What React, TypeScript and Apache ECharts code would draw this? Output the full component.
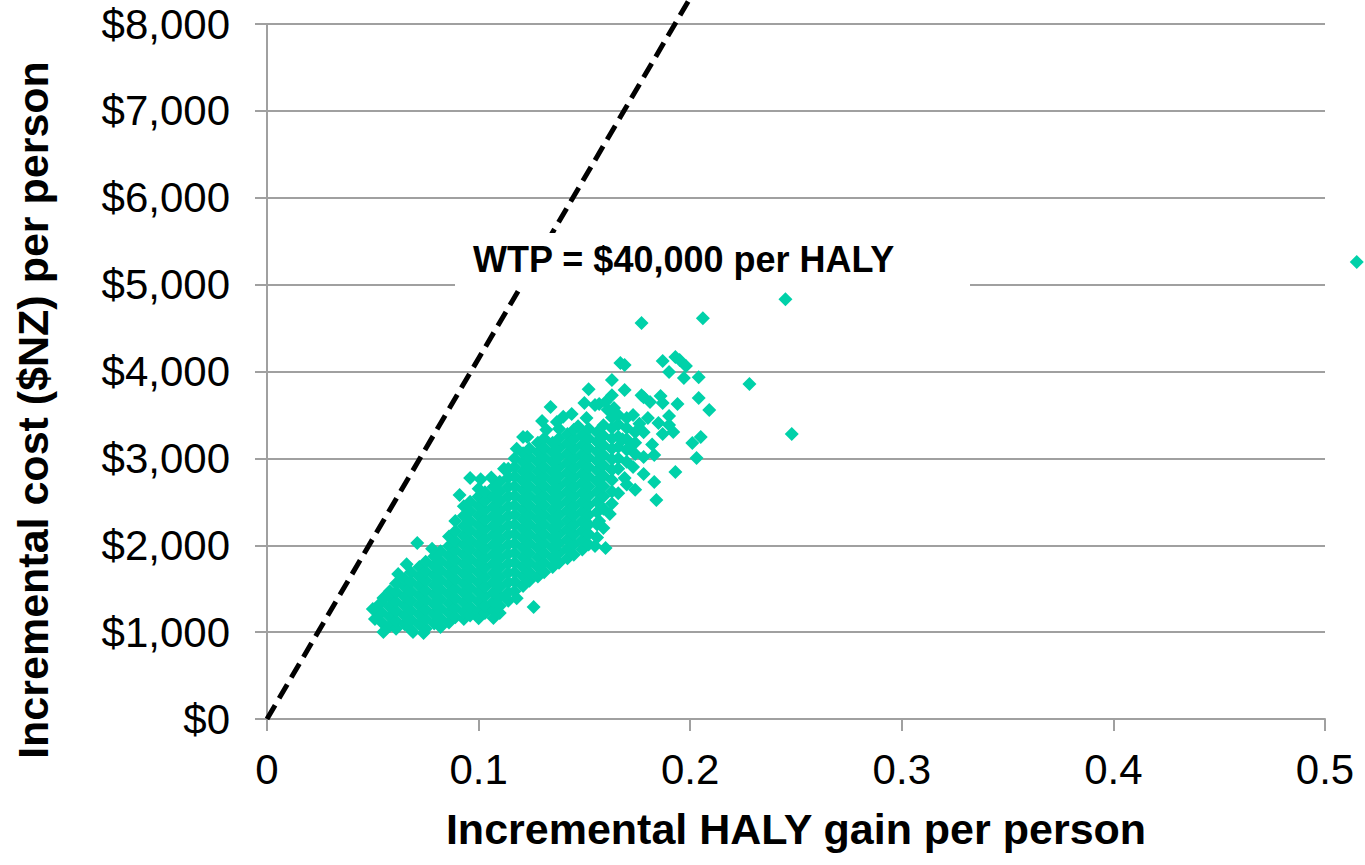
import React, { useEffect, useRef } from "react";
import * as echarts from "echarts";

const xTickLabels = ["0", "0.1", "0.2", "0.3", "0.4", "0.5"];
const yTickLabels = ["$0", "$1,000", "$2,000", "$3,000", "$4,000", "$5,000", "$6,000", "$7,000", "$8,000"];
const xAxisTitle = "Incremental HALY gain per person";
const yAxisTitle = "Incremental cost ($NZ) per person";
const wtpLabel = "WTP = $40,000 per HALY";
const wtpLineX = [0, 0.2];
const wtpLineY = [0, 8300];

// dense core of the simulation cloud: [HALY gain, list of costs]
const coreColumns: [number, number[]][] = [
  [0.051, [1150, 1265]],
  [0.054, [1120, 1230, 1340]],
  [0.058, [1070, 1180, 1290, 1400, 1470]],
  [0.061, [1040, 1130, 1240, 1350, 1460, 1560]],
  [0.065, [1090, 1190, 1300, 1410, 1520, 1610]],
  [0.068, [1030, 1140, 1250, 1360, 1470, 1580, 1690]],
  [0.072, [1090, 1200, 1310, 1420, 1530, 1640, 1750]],
  [0.075, [1040, 1150, 1260, 1370, 1480, 1590, 1700, 1810]],
  [0.079, [1100, 1210, 1320, 1430, 1540, 1650, 1760, 1870]],
  [0.082, [1060, 1160, 1270, 1380, 1490, 1600, 1710, 1820, 1930]],
  [0.086, [1110, 1220, 1330, 1440, 1550, 1660, 1770, 1880, 1990, 2100]],
  [0.089, [1170, 1280, 1390, 1500, 1610, 1720, 1830, 1940, 2050, 2160, 2280]],
  [0.093, [1150, 1230, 1340, 1450, 1560, 1670, 1780, 1890, 2000, 2110, 2220, 2340, 2450]],
  [0.096, [1190, 1290, 1400, 1510, 1620, 1730, 1840, 1950, 2060, 2170, 2280, 2390, 2500]],
  [0.100, [1160, 1240, 1350, 1460, 1570, 1680, 1790, 1900, 2010, 2120, 2230, 2340, 2450, 2560, 2650]],
  [0.103, [1220, 1300, 1410, 1520, 1630, 1740, 1850, 1960, 2070, 2180, 2290, 2400, 2510, 2610]],
  [0.107, [1250, 1350, 1460, 1570, 1680, 1790, 1900, 2010, 2120, 2230, 2340, 2450, 2560, 2670]],
  [0.110, [1220, 1300, 1410, 1520, 1630, 1740, 1850, 1960, 2070, 2180, 2290, 2400, 2510, 2620, 2730]],
  [0.114, [1360, 1460, 1570, 1680, 1790, 1900, 2010, 2120, 2230, 2340, 2450, 2560, 2670, 2780, 2880]],
  [0.117, [1470, 1580, 1690, 1800, 1910, 2020, 2130, 2240, 2350, 2460, 2570, 2680, 2790, 2900, 3000]],
  [0.121, [1530, 1640, 1750, 1860, 1970, 2080, 2190, 2300, 2410, 2520, 2630, 2740, 2850, 2960, 3060]],
  [0.124, [1590, 1690, 1800, 1910, 2020, 2130, 2240, 2350, 2460, 2570, 2680, 2790, 2900, 3010, 3110]],
  [0.128, [1640, 1750, 1860, 1970, 2080, 2190, 2300, 2410, 2520, 2630, 2740, 2850, 2960, 3070, 3180]],
  [0.131, [1690, 1800, 1910, 2020, 2130, 2240, 2350, 2460, 2570, 2680, 2790, 2900, 3010, 3120, 3230]],
  [0.135, [1750, 1860, 1970, 2080, 2190, 2300, 2410, 2520, 2630, 2740, 2850, 2960, 3070, 3180]],
  [0.138, [1800, 1910, 2020, 2130, 2240, 2350, 2460, 2570, 2680, 2790, 2900, 3010, 3120, 3230, 3340]],
  [0.142, [1850, 1960, 2070, 2180, 2290, 2400, 2510, 2620, 2730, 2840, 2950, 3060, 3170, 3280]],
  [0.145, [1890, 2010, 2120, 2230, 2340, 2450, 2560, 2670, 2780, 2890, 3000, 3110, 3220, 3330]],
  [0.149, [1950, 2060, 2170, 2280, 2390, 2500, 2610, 2720, 2830, 2940, 3050, 3160, 3270]],
  [0.152, [2010, 2130, 2240, 2350, 2460, 2570, 2680, 2790, 2900, 3010, 3120, 3230, 3340]],
  [0.156, [2090, 2240, 2380, 2500, 2620, 2740, 2860, 2970, 3080, 3190, 3300]],
  [0.159, [2200, 2420, 2560, 2680, 2800, 2920, 3040, 3150, 3260, 3380]],
  [0.163, [2480, 2620, 2750, 2870, 2990, 3110, 3230, 3350, 3470]],
  [0.166, [2600, 2880, 3000, 3130, 3250, 3390]],
  [0.170, [2700, 2960, 3100, 3220, 3350]],
  [0.174, [3050, 3180, 3300]],
];

// sparse points around the cloud and outliers: [HALY gain, cost]
const outerPoints: [number, number][] = [
  [0.050, 1266], [0.055, 1001], [0.055, 1392], [0.062, 1669], [0.069, 1001], [0.074, 990],
  [0.071, 2025], [0.066, 1780], [0.078, 1960], [0.091, 2578], [0.096, 2773], [0.107, 1162],
  [0.126, 1289], [0.118, 1390], [0.160, 1968], [0.155, 1990],
  [0.101, 2760], [0.106, 2780], [0.112, 2880], [0.118, 3110], [0.121, 3245], [0.123, 3245],
  [0.130, 3429], [0.134, 3590], [0.132, 3330], [0.137, 3420], [0.140, 3480], [0.144, 3510],
  [0.147, 3370], [0.150, 3636], [0.151, 3464], [0.152, 3797], [0.155, 3613], [0.157, 3625],
  [0.161, 3560], [0.163, 3728], [0.163, 3901], [0.164, 3579], [0.167, 4097], [0.169, 4074],
  [0.169, 3786], [0.170, 3464], [0.173, 3498], [0.177, 3728], [0.178, 3705], [0.180, 3464],
  [0.181, 3648], [0.186, 3717], [0.187, 3636], [0.187, 4120], [0.190, 3993], [0.190, 3487],
  [0.185, 3406], [0.190, 3383], [0.192, 3303], [0.187, 3280], [0.193, 4166], [0.195, 4131],
  [0.198, 4062], [0.197, 3924], [0.204, 3935], [0.194, 3625], [0.204, 3694], [0.209, 3556],
  [0.201, 3176], [0.205, 3245], [0.203, 3003], [0.178, 3015], [0.183, 3038], [0.182, 3160],
  [0.178, 3300], [0.176, 3400], [0.172, 3150], [0.168, 3220], [0.166, 3500], [0.160, 3650],
  [0.178, 2819], [0.183, 2727], [0.184, 2520], [0.193, 2842], [0.169, 2773], [0.173, 2900],
  [0.174, 2640], [0.157, 2280], [0.162, 2360],
  [0.177, 4557], [0.206, 4614], [0.245, 4833], [0.228, 3855], [0.248, 3280], [0.515, 5259],
];

export default function App() {
  const ref = useRef<HTMLDivElement>(null);
  useEffect(() => {
    document.body.style.margin = "0";
    const chart = echarts.init(ref.current!, null, { renderer: "svg" });
    const points: [number, number][] = [
      ...coreColumns.flatMap(([x, ys]) => ys.map((y) => [x, y] as [number, number])),
      ...outerPoints,
    ];
    const font = "'Liberation Sans', Arial, Helvetica, sans-serif";
    const gray = "#a0a0a0";
    chart.setOption({
      animation: false,
      backgroundColor: "#ffffff",
      grid: { left: 267, right: 40, top: 24, bottom: 146, containLabel: false },
      xAxis: {
        type: "value",
        min: 0,
        max: 0.5,
        interval: 0.1,
        name: xAxisTitle,
        nameLocation: "middle",
        nameGap: 88,
        nameTextStyle: { fontSize: 43, fontWeight: "bold", color: "#000", fontFamily: font },
        axisLine: { show: true, lineStyle: { color: gray, width: 2 } },
        axisTick: { show: true, length: 12, lineStyle: { color: gray, width: 2 } },
        axisLabel: {
          margin: 29,
          fontSize: 42,
          color: "#000",
          fontFamily: font,
          formatter: (v: number) => xTickLabels[Math.round(v * 10)] ?? "",
        },
        splitLine: { show: false },
      },
      yAxis: {
        type: "value",
        min: 0,
        max: 8000,
        interval: 1000,
        axisLine: { show: true, lineStyle: { color: gray, width: 2 } },
        axisTick: { show: true, length: 12, lineStyle: { color: gray, width: 2 } },
        axisLabel: {
          margin: 37,
          fontSize: 42,
          color: "#000",
          fontFamily: font,
          formatter: (v: number) => yTickLabels[Math.round(v / 1000)] ?? "",
        },
        splitLine: { show: true, lineStyle: { color: gray, width: 2 } },
      },
      series: [
        {
          type: "scatter",
          data: points,
          symbol: "diamond",
          symbolSize: 14,
          itemStyle: { color: "#00d1a9", opacity: 1 },
          clip: false,
          z: 2,
        },
        {
          type: "line",
          data: wtpLineX.map((x, i) => [x, wtpLineY[i]]),
          symbol: "none",
          lineStyle: { color: "#000", width: 5, type: [16, 8] },
          clip: false,
          z: 3,
        },
      ],
      graphic: [
        {
          type: "text",
          x: 33,
          y: 410,
          rotation: Math.PI / 2,
          style: {
            text: yAxisTitle,
            fontSize: 43,
            fontWeight: "bold",
            fontFamily: font,
            fill: "#000",
            align: "center",
            verticalAlign: "middle",
          },
          z: 50,
        },
        {
          type: "rect",
          shape: { x: 455, y: 233, width: 515, height: 56 },
          style: { fill: "#ffffff" },
          z: 100,
        },
        {
          type: "text",
          x: 473,
          y: 259,
          style: {
            text: wtpLabel,
            fontSize: 36,
            fontWeight: "bold",
            fontFamily: font,
            fill: "#000",
            verticalAlign: "middle",
          },
          z: 101,
        },
      ],
    });
    return () => chart.dispose();
  }, []);
  return (
    <div
      ref={ref}
      style={{ position: "fixed", left: 0, top: 0, width: 1365, height: 865, background: "#fff" }}
    />
  );
}
